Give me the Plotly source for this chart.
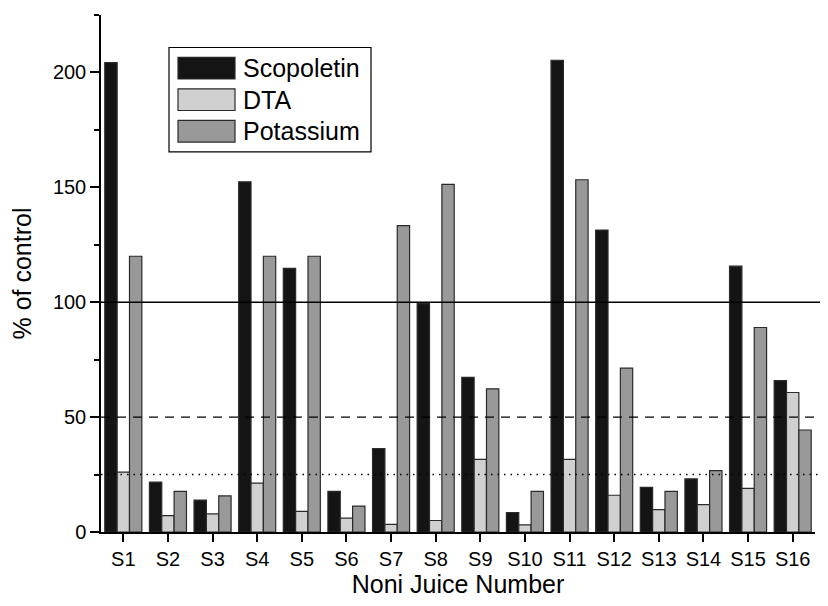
import plotly.graph_objects as go

categories = ["S1", "S2", "S3", "S4", "S5", "S6", "S7", "S8",
              "S9", "S10", "S11", "S12", "S13", "S14", "S15", "S16"]
scopoletin = [204.3, 21.7, 13.9, 152.4, 114.7, 17.7, 36.3, 99.4,
              67.3, 8.4, 205.3, 131.4, 19.4, 23.1, 115.7, 65.9]
dta = [26.1, 7.1, 7.9, 21.3, 9.0, 6.0, 3.3, 5.0,
       31.6, 3.1, 31.6, 16.0, 9.7, 11.9, 19.0, 60.7]
potassium = [120.0, 17.7, 15.7, 120.0, 120.0, 11.3, 133.3, 151.3,
             62.3, 17.7, 153.3, 71.3, 17.7, 26.7, 89.0, 44.4]
series_names = ["Scopoletin", "DTA", "Potassium"]
series_colors = ["#141414", "#d0d0d0", "#999999"]
ref_lines = [100, 50, 25]

FONT = "Liberation Sans, Arial, sans-serif"
# page has default 8px body margin; size figure so page is exactly 828x606
OFF = 8
W, H = 828 - 2 * OFF, 606 - 2 * OFF
ML, MT = 101 - OFF, 15 - OFF
PR, PB = 815 - OFF, 540 - OFF
MR, MB = W - PR, H - PB
PW, PH = PR - ML, PB - MT

def px(x):
    return (x - OFF - ML) / PW

def py(y):
    return (PB - (y - OFF)) / PH

fig = go.Figure()
for name, vals, col in zip(series_names, [scopoletin, dta, potassium], series_colors):
    fig.add_trace(go.Bar(
        x=categories, y=vals, name=name, showlegend=False,
        marker=dict(color=col, line=dict(color="#2a2a2a", width=1.2)),
    ))

shapes = []
dashes = ["solid", "9px,7px", "1.5px,5px"]
for v, d in zip(ref_lines, dashes):
    shapes.append(dict(type="line", xref="paper", yref="y", x0=0, x1=px(828),
                       y0=v, y1=v, line=dict(color="black", width=1.4, dash=d),
                       layer="above"))

# legend box
shapes.append(dict(type="rect", xref="paper", yref="paper",
                   x0=px(169), x1=px(371), y0=py(154), y1=py(48),
                   line=dict(color="black", width=1.2), fillcolor="white",
                   layer="above"))
annotations = []
row_tops = [58, 90, 122]
for name, col, top in zip(series_names, series_colors, row_tops):
    shapes.append(dict(type="rect", xref="paper", yref="paper",
                       x0=px(178), x1=px(235), y0=py(top + 22), y1=py(top),
                       line=dict(color="#2a2a2a", width=1.2), fillcolor=col,
                       layer="above"))
    annotations.append(dict(xref="paper", yref="paper", x=px(241), y=py(top + 11),
                            text=name, showarrow=False, xanchor="left",
                            yanchor="middle",
                            font=dict(family=FONT, size=25, color="black")))

fig.update_layout(
    width=W, height=H,
    margin=dict(l=ML, r=MR, t=MT, b=MB),
    paper_bgcolor="white", plot_bgcolor="white",
    barmode="group", bargap=0.17, bargroupgap=0,
    font=dict(family=FONT, size=20, color="black"),
    shapes=shapes, annotations=annotations,
    xaxis=dict(
        showline=True, linecolor="black", linewidth=1.5,
        ticks="outside", ticklen=8, tickwidth=1.5, tickcolor="black",
        tickfont=dict(size=20), showgrid=False,
        title=dict(text="Noni Juice Number", font=dict(size=25), standoff=6),
        range=[-0.5, 15.5],
    ),
    yaxis=dict(
        range=[0, 225], tickvals=[0, 50, 100, 150, 200],
        showline=True, linecolor="black", linewidth=1.5,
        ticks="outside", ticklen=9, tickwidth=1.5, tickcolor="black",
        minor=dict(ticks="outside", ticklen=5, tickwidth=1.5, tickcolor="black",
                   tickvals=[25, 75, 125, 175, 225]),
        tickfont=dict(size=20), showgrid=False, zeroline=False,
        title=dict(text="% of control", font=dict(size=25), standoff=14),
    ),
)

fig.write_html("out.html", config={"displayModeBar": False})
